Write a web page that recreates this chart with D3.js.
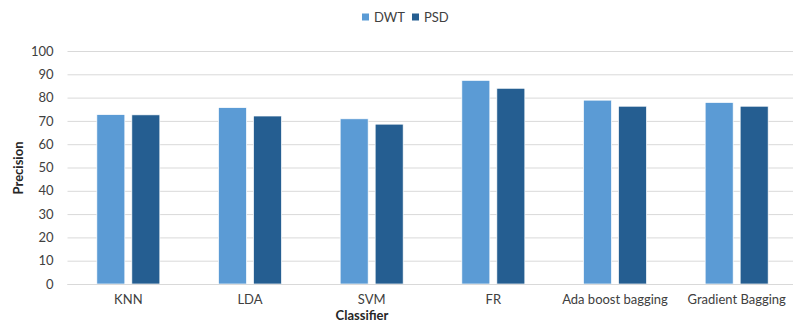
<!DOCTYPE html>
<html><head><meta charset="utf-8">
<script src="https://cdn.jsdelivr.net/npm/d3@7"></script>
<style>body{margin:0;background:#fff}svg{display:block}text{font-family:Lato,"Open Sans",sans-serif}</style>
</head><body>
<svg id="c" width="793" height="324"></svg>
<script>
const categories = ["KNN","LDA","SVM","FR","Ada boost bagging","Gradient Bagging"];
const seriesNames = ["DWT","PSD"];
const dwt = [72.7, 75.7, 70.9, 87.4, 78.9, 77.9];
const psd = [72.6, 72.1, 68.6, 84.0, 76.3, 76.3];
const yTicks = [0,10,20,30,40,50,60,70,80,90,100];
const colors = ["#5B9BD5","#255E91"];

(function(){
const svg = d3.select("#c");
const mLeft = 67.5, mRight = 797.5, mTop = 51, mBottom = 284;
const x0 = d3.scaleBand().domain(categories).range([mLeft, mRight]).padding(0);
const gw = 63, bw = x0.bandwidth();
const x1 = d3.scaleBand().domain(seriesNames).range([(bw-gw)/2, (bw+gw)/2]).paddingInner(0.2).paddingOuter(0);
const y = d3.scaleLinear().domain([0,100]).range([mBottom, mTop]);
const color = d3.scaleOrdinal().domain(seriesNames).range(colors);

const yAxis = d3.axisLeft(y).tickValues(yTicks).tickSize(-(mRight-mLeft)).tickPadding(14);
const ga = svg.append("g").attr("transform",`translate(${mLeft},0)`).call(yAxis);
ga.select(".domain").remove();
ga.selectAll(".tick line").attr("stroke","#d9d9d9").attr("stroke-width",1);
ga.selectAll(".tick text").attr("font-size",13).attr("fill","#404040");

const data = categories.map((c,i)=>({cat:c, vals:[{s:"DWT",v:dwt[i]},{s:"PSD",v:psd[i]}]}));
const g = svg.append("g").selectAll("g").data(data).join("g")
  .attr("transform", d=>`translate(${x0(d.cat)},0)`);
g.selectAll("rect").data(d=>d.vals).join("rect")
  .attr("x", d=>x1(d.s)).attr("width", x1.bandwidth())
  .attr("y", d=>y(d.v)).attr("height", d=>y(0)-y(d.v))
  .attr("fill", d=>color(d.s)).attr("stroke","#fff").attr("stroke-width",0.7);

svg.append("line").attr("x1",mLeft).attr("x2",mRight).attr("y1",y(0)+0.5).attr("y2",y(0)+0.5).attr("stroke","#d9d9d9");
const xa = svg.append("g").attr("transform",`translate(0,${mBottom})`).call(d3.axisBottom(x0).tickSize(0).tickPadding(11));
xa.select(".domain").remove();
xa.selectAll("text").attr("font-size",13).attr("fill","#404040");

svg.append("text").attr("x",362).attr("y",320).attr("text-anchor","middle").attr("font-size",13).attr("font-weight","bold").attr("fill","#262626").text("Classifier");
svg.append("text").attr("transform","translate(23,168) rotate(-90)").attr("text-anchor","middle").attr("font-size",13).attr("font-weight","bold").attr("fill","#262626").text("Precision");

const leg = svg.append("g").attr("transform","translate(362,12)");
const li = leg.selectAll("g").data(seriesNames).join("g").attr("transform",(d,i)=>`translate(${i*50},0)`);
li.append("rect").attr("width",7).attr("height",7).attr("y",1.5).attr("fill",d=>color(d));
li.append("text").attr("x",12).attr("y",9.5).attr("font-size",13).attr("fill","#404040").text(d=>d);
})();
</script>
</body></html>
